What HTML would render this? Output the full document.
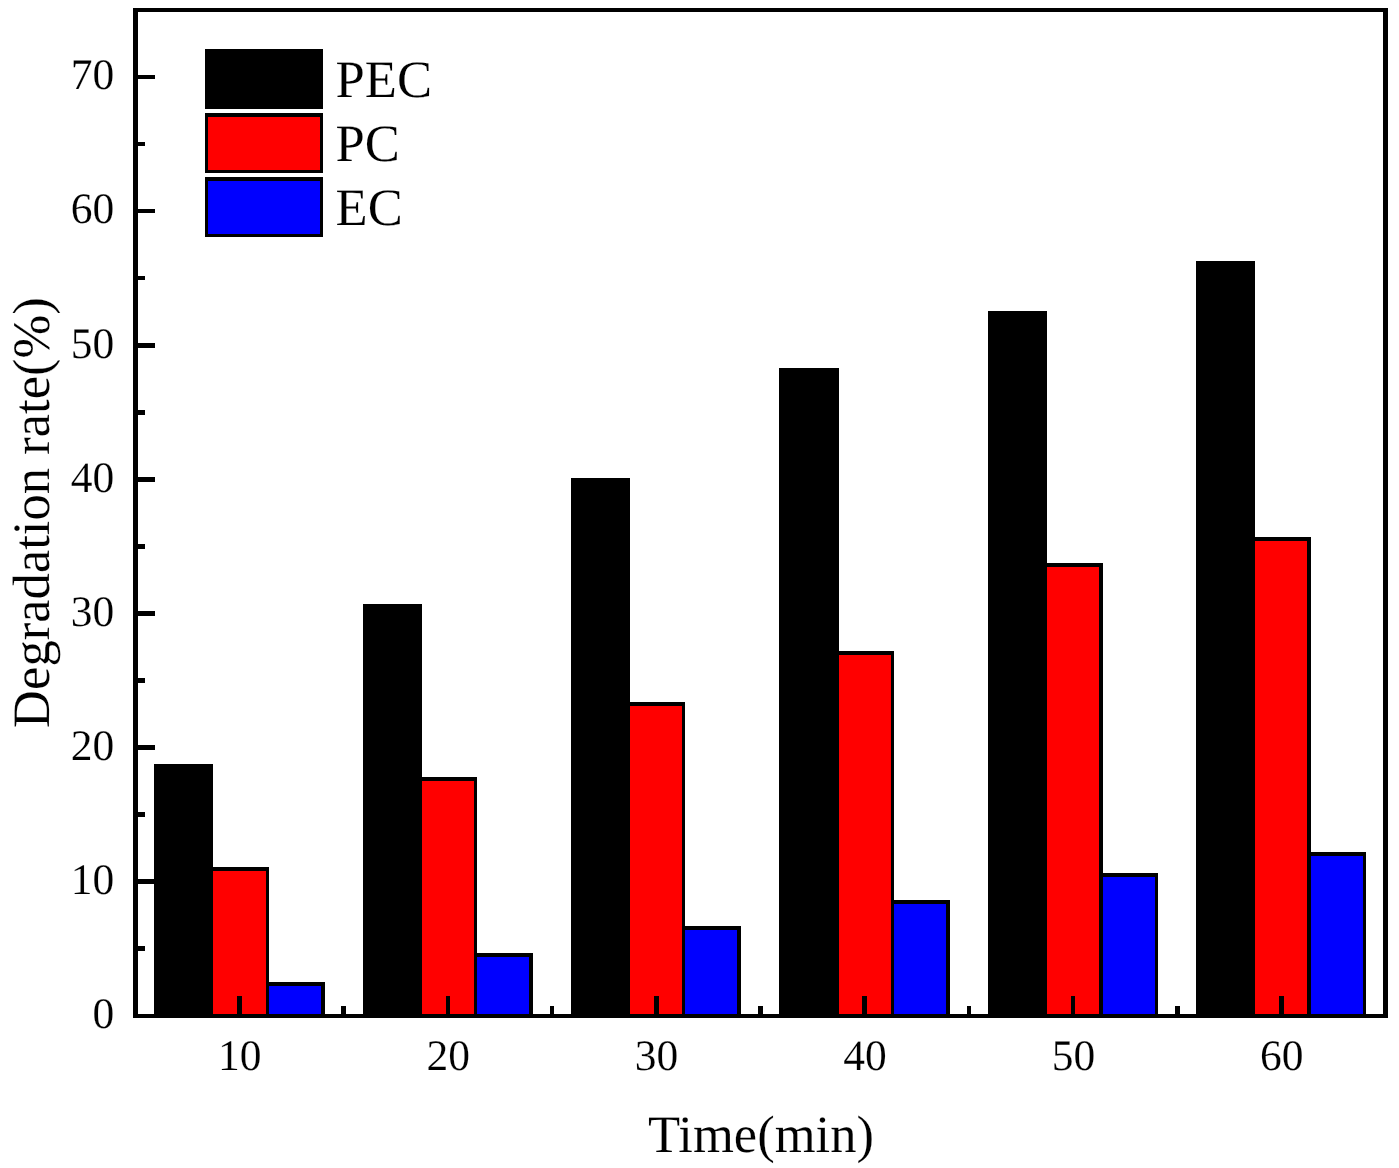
<!DOCTYPE html>
<html lang="en">
<head>
<meta charset="utf-8">
<title>Degradation rate vs Time</title>
<style>
html,body{margin:0;padding:0;background:#fff;}
body{width:1399px;height:1168px;overflow:hidden;}
svg{display:block;will-change:transform;}
rect,line{shape-rendering:crispEdges;}
text{text-rendering:geometricPrecision;font-family:"Liberation Serif","Times New Roman",serif;fill:#000;stroke:#fff;stroke-width:0.15px;paint-order:fill stroke;}
.tk{font-size:43.5px;}
.ti{font-size:52.6px;}
.lg{font-size:52.6px;}
</style>
</head>
<body>
<svg width="1399" height="1168" viewBox="0 0 1399 1168">
<rect x="0" y="0" width="1399" height="1168" fill="#ffffff"/>
<g>
<rect x="154" y="764" width="59" height="252" fill="#000000"/>
<rect x="210" y="867" width="59" height="149" fill="#000000"/>
<rect x="213" y="871" width="53" height="143" fill="#ff0000"/>
<rect x="266" y="982" width="59" height="34" fill="#000000"/>
<rect x="269" y="986" width="52" height="28" fill="#0000ff"/>
<rect x="363" y="604" width="59" height="412" fill="#000000"/>
<rect x="419" y="777" width="58" height="239" fill="#000000"/>
<rect x="422" y="781" width="52" height="233" fill="#ff0000"/>
<rect x="474" y="953" width="59" height="63" fill="#000000"/>
<rect x="477" y="957" width="52" height="57" fill="#0000ff"/>
<rect x="571" y="478" width="59" height="538" fill="#000000"/>
<rect x="627" y="702" width="58" height="314" fill="#000000"/>
<rect x="630" y="706" width="52" height="308" fill="#ff0000"/>
<rect x="682" y="926" width="59" height="90" fill="#000000"/>
<rect x="685" y="930" width="52" height="84" fill="#0000ff"/>
<rect x="779" y="368" width="60" height="648" fill="#000000"/>
<rect x="836" y="651" width="58" height="365" fill="#000000"/>
<rect x="839" y="655" width="52" height="359" fill="#ff0000"/>
<rect x="891" y="900" width="59" height="116" fill="#000000"/>
<rect x="894" y="904" width="52" height="110" fill="#0000ff"/>
<rect x="988" y="311" width="59" height="705" fill="#000000"/>
<rect x="1044" y="563" width="59" height="453" fill="#000000"/>
<rect x="1047" y="567" width="52" height="447" fill="#ff0000"/>
<rect x="1099" y="873" width="59" height="143" fill="#000000"/>
<rect x="1103" y="877" width="52" height="137" fill="#0000ff"/>
<rect x="1196" y="261" width="59" height="755" fill="#000000"/>
<rect x="1252" y="537" width="59" height="479" fill="#000000"/>
<rect x="1255" y="541" width="52" height="473" fill="#ff0000"/>
<rect x="1307" y="852" width="59" height="164" fill="#000000"/>
<rect x="1311" y="856" width="52" height="158" fill="#0000ff"/>
</g>
<g fill="#000">
<rect x="133" y="7.9" width="5" height="1009.9"/>
<rect x="1383" y="7.9" width="5" height="1009.9"/>
<rect x="133" y="7.9" width="1255" height="4"/>
<rect x="133" y="1013.8" width="1255" height="4"/>
</g>
<g stroke="#000" stroke-width="4.6" fill="none">
<line x1="135.5" y1="881.7" x2="155.0" y2="881.7"/>
<line x1="135.5" y1="747.6" x2="155.0" y2="747.6"/>
<line x1="135.5" y1="613.4" x2="155.0" y2="613.4"/>
<line x1="135.5" y1="479.3" x2="155.0" y2="479.3"/>
<line x1="135.5" y1="345.2" x2="155.0" y2="345.2"/>
<line x1="135.5" y1="211.1" x2="155.0" y2="211.1"/>
<line x1="135.5" y1="77.0" x2="155.0" y2="77.0"/>
<line x1="135.5" y1="948.7" x2="145.0" y2="948.7"/>
<line x1="135.5" y1="814.6" x2="145.0" y2="814.6"/>
<line x1="135.5" y1="680.5" x2="145.0" y2="680.5"/>
<line x1="135.5" y1="546.4" x2="145.0" y2="546.4"/>
<line x1="135.5" y1="412.3" x2="145.0" y2="412.3"/>
<line x1="135.5" y1="278.1" x2="145.0" y2="278.1"/>
<line x1="135.5" y1="144.0" x2="145.0" y2="144.0"/>
</g>
<g stroke="#000" stroke-width="4.6" fill="none">
<line x1="239.5" y1="1015.8" x2="239.5" y2="996.0"/>
<line x1="447.9" y1="1015.8" x2="447.9" y2="996.0"/>
<line x1="656.3" y1="1015.8" x2="656.3" y2="996.0"/>
<line x1="864.7" y1="1015.8" x2="864.7" y2="996.0"/>
<line x1="1073.1" y1="1015.8" x2="1073.1" y2="996.0"/>
<line x1="1281.5" y1="1015.8" x2="1281.5" y2="996.0"/>
<line x1="343.7" y1="1015.8" x2="343.7" y2="1006.0"/>
<line x1="552.1" y1="1015.8" x2="552.1" y2="1006.0"/>
<line x1="760.5" y1="1015.8" x2="760.5" y2="1006.0"/>
<line x1="968.9" y1="1015.8" x2="968.9" y2="1006.0"/>
<line x1="1177.3" y1="1015.8" x2="1177.3" y2="1006.0"/>
</g>
<g class="tk" text-anchor="end">
<text x="114.3" y="1028.1">0</text>
<text x="114.3" y="894.0">10</text>
<text x="114.3" y="759.9">20</text>
<text x="114.3" y="625.7">30</text>
<text x="114.3" y="491.6">40</text>
<text x="114.3" y="357.5">50</text>
<text x="114.3" y="223.4">60</text>
<text x="114.3" y="89.3">70</text>
</g>
<g class="tk" text-anchor="middle">
<text x="239.8" y="1070.3">10</text>
<text x="448.2" y="1070.3">20</text>
<text x="656.6" y="1070.3">30</text>
<text x="865.0" y="1070.3">40</text>
<text x="1073.4" y="1070.3">50</text>
<text x="1281.8" y="1070.3">60</text>
</g>
<text class="ti" text-anchor="middle" x="761" y="1152">Time(min)</text>
<text class="ti" text-anchor="middle" transform="translate(49,512.5) rotate(-90)">Degradation rate(%)</text>
<g>
<rect x="205" y="49" width="118" height="60" fill="#000000"/>
<rect x="205" y="113" width="118" height="60" fill="#000000"/>
<rect x="208" y="117" width="112" height="53" fill="#ff0000"/>
<rect x="205" y="177" width="118" height="60" fill="#000000"/>
<rect x="208" y="181" width="112" height="53" fill="#0000ff"/>
</g>
<text class="lg" x="335.6" y="97">PEC</text>
<text class="lg" x="335.6" y="161">PC</text>
<text class="lg" x="335.6" y="225">EC</text>
</svg>
</body>
</html>
